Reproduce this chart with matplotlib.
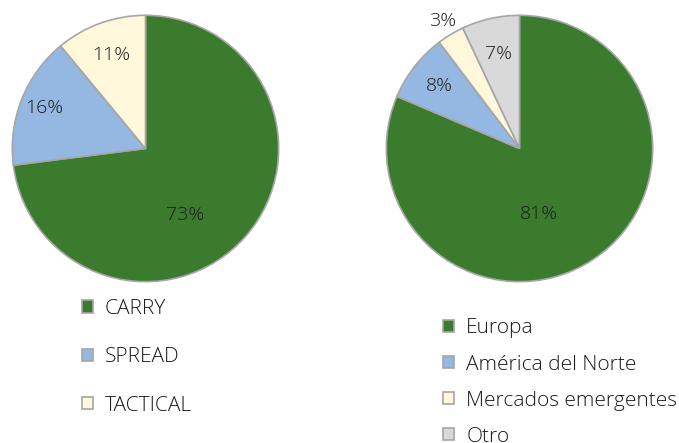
import matplotlib.pyplot as plt
import numpy as np

plt.rcParams['font.family'] = ['Open Sans', 'DejaVu Sans']
plt.rcParams['font.weight'] = 'light'

# left pie: strategy split
strat_labels = ["CARRY", "SPREAD", "TACTICAL"]
strat_values = [73, 16, 11]

# right pie: regional split
region_labels = ["Europa", "América del Norte", "Mercados emergentes", "Otro"]
region_values = [81.4, 8.3, 3.3, 7.0]

green = "#3B7B2D"
blue = "#95B8E2"
yellow = "#FFF8DA"
grey = "#D9D9D9"
edge = "#A6A6A6"


def draw_pie(ax, values, colors, label_pos):
    wedges, _, texts = ax.pie(values, colors=colors, startangle=90, counterclock=False,
                              autopct="%.0f%%", radius=1,
                              wedgeprops=dict(edgecolor=edge, linewidth=1.2),
                              textprops=dict(fontsize=14, color="#1a1a1a"))
    # excel style label placement (radial factor, angle shift in degrees)
    for w, t, (rf, shift) in zip(wedges, texts, label_pos):
        mid = np.deg2rad((w.theta1 + w.theta2) / 2 - shift)
        t.set_position((rf * np.cos(mid), rf * np.sin(mid)))
    ax.set_xlim(-1.01, 1.01)
    ax.set_ylim(-1.01, 1.01)
    ax.set_aspect("equal")
    return wedges


fig = plt.figure(figsize=(6.79, 4.43), dpi=100)

ax1 = fig.add_axes([11 / 679, (443 - 283) / 443, 269 / 679, 269 / 443])
w1 = draw_pie(ax1, strat_values, [green, blue, yellow],
              [(0.58, 18), (0.82, 0), (0.75, 0)])

ax2 = fig.add_axes([385 / 679, (443 - 283) / 443, 269 / 679, 269 / 443])
w2 = draw_pie(ax2, region_values, [green, blue, yellow, grey],
              [(0.51, 17), (0.76, 0), (1.12, 0), (0.73, 0)])

leg_kw = dict(frameon=False, loc="upper left", fontsize=15, handlelength=0.53,
              handleheight=0.53, handletextpad=0.58, borderpad=0, borderaxespad=0,
              labelcolor="#1a1a1a")

fig.legend(w1, strat_labels, bbox_to_anchor=(82 / 679, (443 - 299) / 443),
           labelspacing=1.36, **leg_kw)
fig.legend(w2, region_labels, bbox_to_anchor=(443 / 679, (443 - 318.5) / 443),
           labelspacing=0.77, **leg_kw)

fig.savefig("out.png", dpi=100)
